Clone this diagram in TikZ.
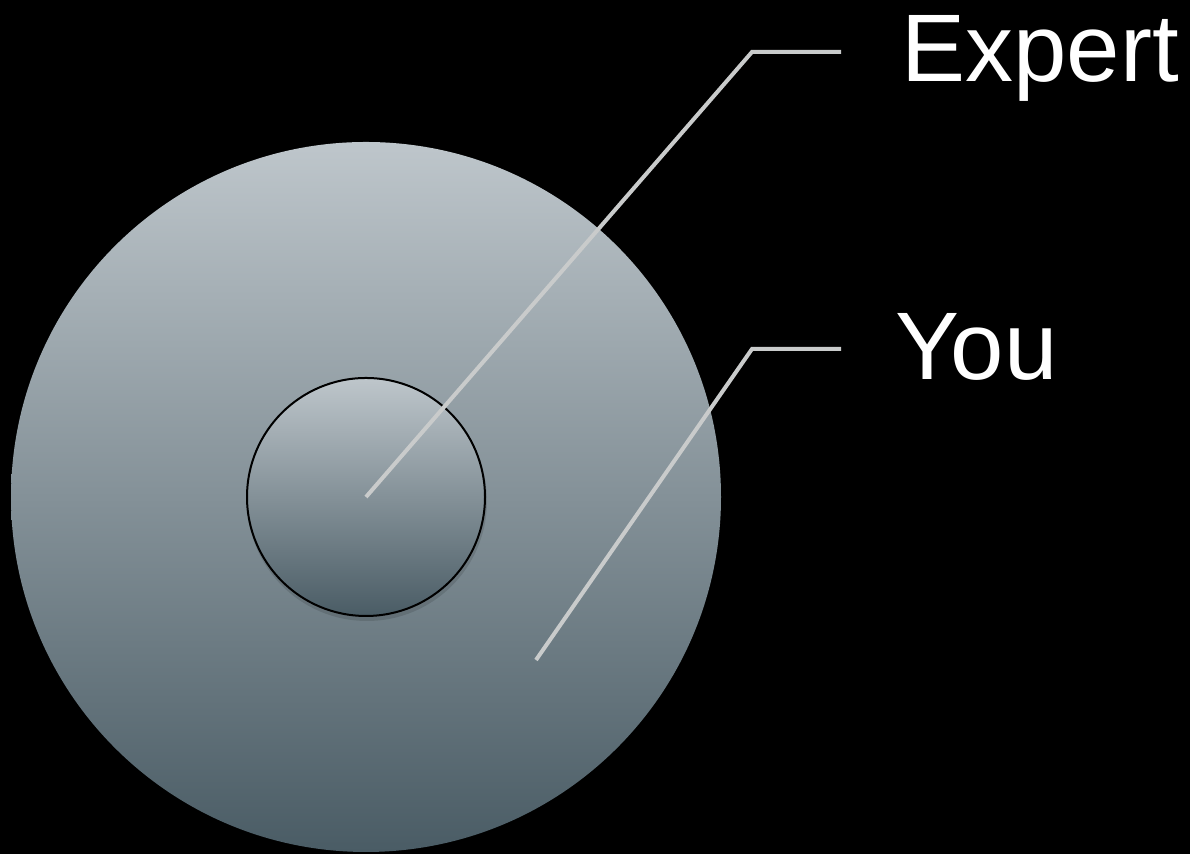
\documentclass[tikz,border=0pt]{standalone}
\usepackage{fontspec}
\setmainfont{Liberation Sans}
\usepackage{tikz}
\definecolor{disctop}{HTML}{BEC6CB}
\definecolor{discbot}{HTML}{4A5C65}
\definecolor{leader}{HTML}{C9CBCB}

\begin{document}
\begin{tikzpicture}[x=0.5pt, y=0.5pt,
	every node/.style={font=\fontsize{48}{56}\selectfont, text=white, inner sep=0pt},
	disc/.style={top color=disctop, bottom color=discbot},
	leaderline/.style={draw=leader, line width=2pt, line join=miter}]
	\fill[black] (0,0) rectangle (1190,854);
	\useasboundingbox (0,0) rectangle (1190,854);
	% the two discs
	\shade[disc] (366,357) circle (355);
	\fill[black, opacity=0.12] (367,353) circle (120);
	\shade[disc, draw=black, line width=1pt] (366,357) circle (119);
	\coordinate (centre) at (366,357);
	\coordinate (ring) at (536,194);
	% labels
	\node[anchor=base west] (expert) at (901,772) {Expert};
	\node[anchor=base west] (you) at (895,474) {You};
	\coordinate (expertend) at (841,802);
	\coordinate (youend) at (841,505);
	% leader lines
	\draw[leaderline] (centre) -- (752,802) -- (expertend);
	\draw[leaderline] (ring) -- (752,505) -- (youend);
\end{tikzpicture}
\end{document}
